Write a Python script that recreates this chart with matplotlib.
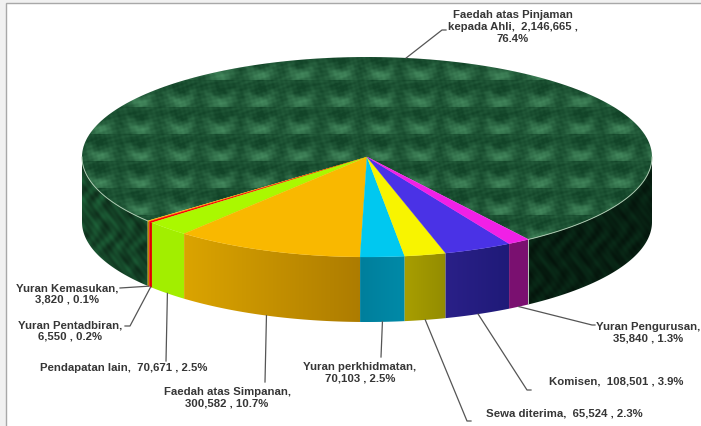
import numpy as np
import matplotlib.pyplot as plt
from matplotlib.colors import to_rgb
from matplotlib.patches import Polygon, Rectangle

# --- Data ---
names = ['Faedah atas Pinjaman\nkepada Ahli', 'Yuran Kemasukan', 'Yuran Pentadbiran', 'Pendapatan lain',
         'Faedah atas Simpanan', 'Yuran perkhidmatan', 'Sewa diterima', 'Komisen', 'Yuran Pengurusan']
values = [2146665, 3820, 6550, 70671, 300582, 70103, 65524, 108501, 35840]
percents = [76.4, 0.1, 0.2, 2.5, 10.7, 2.5, 2.3, 3.9, 1.3]

top_colors = [None, '#ffb400', '#ff0000', '#aaf800', '#f9b800', '#00c8f0', '#f8f400', '#4a32e6', '#f020e6']
side_colors = [None, '#c08a00', '#e00000', '#a2ee00', ('#dba400', '#ad7c00'), ('#007f9c', '#008aa8'),
               ('#a89e00', '#938c00'), ('#2a2088', '#1f1a78'), ('#7a1070', '#7a1070')]

# label layout: centre of text, elbow of the leader line, short stub towards the text
label_pos = [(513, 27), (67, 294), (70, 331), (124, 368), (227, 398), (360, 373), (564, 414), (616, 382), (648, 333)]
label_elbow = [(442, 31), (120, 289), (130, 327), (166, 362), (265, 383), (381, 358), (467, 422), (527, 391), (592, 326)]
label_stub = [4, 0, -5, 0, 0, 0, 4, 4, 3]
single_line = ['Pendapatan lain', 'Sewa diterima', 'Komisen']

# --- Pie geometry (pixels) ---
cx, cy = 367, 158
a, b = 285, 100
depth = 65
start = 34.5

plt.rcParams['font.family'] = ['Liberation Sans', 'DejaVu Sans']
fig = plt.figure(figsize=(7.01, 4.27), dpi=100, facecolor='#f1f1f1')
ax = fig.add_axes([0, 0, 1, 1])
ax.axis('off')
ax.add_patch(Rectangle((5.5, 3.5), 720, 450, fc='white', ec='#a8a8a8', lw=1.0, zorder=0))


def px(theta, drop=0):
    t = np.radians(theta)
    return cx + a * np.sin(t), cy + b * np.cos(t) + drop


def top_poly(t1, t2):
    th = np.linspace(t1, t2, 200)
    xs, ys = px(th)
    return np.r_[[cx], xs], np.r_[[cy], ys]


def side_poly(t1, t2):
    th = np.linspace(t1, t2, 100)
    xs, ys = px(th)
    xb, yb = px(th[::-1], depth)
    return np.r_[xs, xb], np.r_[ys, yb]


def clipped_image(img, xs, ys, zorder):
    poly = Polygon(np.c_[xs, ys], closed=True, fc='none', ec='none')
    ax.add_patch(poly)
    im = ax.imshow(img, extent=(0, 701, 427, 0), aspect='auto', zorder=zorder, interpolation='bilinear')
    im.set_clip_path(poly)


# green marble textures
yy, xx = np.mgrid[0:427, 0:701].astype(float)
u = (xx % 40) / 40 - 0.5
v = (yy % 27) / 27 - 0.35
d = np.sqrt((u * 1.4) ** 2 + v ** 2)
scales = np.exp(-((d - 0.42) / 0.16) ** 2) * np.clip(v * 6 + 0.5, 0, 1)
blob = np.exp(-((u * 3) ** 2 + ((v - 0.5) * 3.5) ** 2))
row_line = np.exp(-((v + 0.3) / 0.05) ** 2) * 0.5
vein = 0.5 + 0.5 * np.sin(xx * 0.31 + 2.2 * np.sin(yy * 0.23)) * np.sin(yy * 0.47 + 1.7 * np.sin(xx * 0.13))
fine = 0.5 + 0.5 * np.sin(xx * 0.83 + yy * 0.61 + 2 * np.sin(xx * 0.07)) * np.sin(xx * 0.41 - yy * 0.97)
dark_spot = np.exp(-(d / 0.3) ** 2)
amt = np.clip(0.16 * scales + 0.42 * blob + 0.12 * row_line + 0.14 * vein + 0.12 * fine - 0.12 * dark_spot, 0, 1)[..., None]
base = np.array([18, 68, 40]) / 255
light = np.array([85, 160, 112]) / 255
top_tex = base + amt * (light - base)

mottle = (0.5 + 0.25 * np.sin(xx * 0.37 + 3 * np.sin(yy * 0.13)) + 0.15 * np.sin(yy * 0.29 + 2 * np.sin(xx * 0.19))
          + 0.1 * np.sin(xx * 0.97 - yy * 0.71))
blend = np.clip((xx - 90) / 300, 0, 1)[..., None]
side_base = (1 - blend) * np.array([22, 72, 42]) + blend * np.array([7, 32, 18])
side_tex = (side_base * (0.65 + 0.7 * mottle[..., None])).clip(0, 255) / 255

# slice angles come from the values
bounds = start + 360 * np.cumsum([0] + values) / sum(values)

# big slice: top face and the two visible parts of its side
clipped_image(side_tex, *side_poly(bounds[0], 90), 1)
clipped_image(side_tex, *side_poly(270, bounds[1]), 1)
clipped_image(top_tex, *top_poly(bounds[0], bounds[1]), 2)

for i in range(1, len(values)):
    t1, t2 = bounds[i] - 360, bounds[i + 1] - 360
    xs, ys = side_poly(t1, t2)
    sc = side_colors[i]
    if isinstance(sc, tuple):
        c0, c1 = np.array(to_rgb(sc[0])), np.array(to_rgb(sc[1]))
        x0, x1 = xs.min(), xs.max()
        f = np.clip((xx - x0) / (x1 - x0), 0, 1)[..., None]
        clipped_image(c0 + f * (c1 - c0), xs, ys, 3)
    else:
        ax.add_patch(Polygon(np.c_[xs, ys], fc=sc, ec='none', zorder=3))
    xs, ys = top_poly(t1, t2)
    ax.add_patch(Polygon(np.c_[xs, ys], fc=top_colors[i], ec=top_colors[i], lw=0.2, zorder=4))

# pale rim on the green part
th = np.linspace(bounds[0], 90, 100)
ax.plot(*px(th), color='#a9c7ae', lw=0.7, zorder=5)
th = np.linspace(270, bounds[1], 60)
ax.plot(*px(th), color='#a9c7ae', lw=0.7, zorder=5)
x_edge, y_edge = px(bounds[0])
ax.plot([x_edge, x_edge], [y_edge, y_edge + depth], color='#b9c9bb', lw=0.7, zorder=5)

# labels and leader lines
mids = (bounds[:-1] + bounds[1:]) / 2
for i, name in enumerate(names):
    if i == 0:
        text = f'{name},  {values[i]:,} ,\n{percents[i]}%'
        anchor = px(mids[i])
    else:
        anchor = px(mids[i], depth)
        if name in single_line:
            text = f'{name},  {values[i]:,} , {percents[i]}%'
        else:
            text = f'{name},\n{values[i]:,} , {percents[i]}%'
    ex, ey = label_elbow[i]
    ax.plot([anchor[0], ex, ex + label_stub[i]], [anchor[1], ey, ey], color='#555555', lw=0.9, zorder=6)
    ax.text(label_pos[i][0], label_pos[i][1], text, ha='center', va='center', fontsize=8.2,
            fontweight='bold', color='#363636', linespacing=1.22, zorder=7)

ax.set_xlim(0, 701)
ax.set_ylim(427, 0)
fig.savefig('out.png', dpi=100, facecolor=fig.get_facecolor())
